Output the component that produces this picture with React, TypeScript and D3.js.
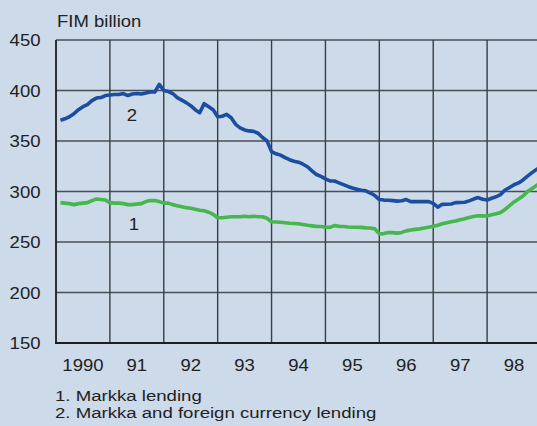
import React from "react";
import * as d3 from "d3";

const startYear = 1990;
const yearTicks = [1990, 1991, 1992, 1993, 1994, 1995, 1996, 1997, 1998];
const yearLabels = ["1990", "91", "92", "93", "94", "95", "96", "97", "98"];
const yTicks = [150, 200, 250, 300, 350, 400, 450];

// Series 2: Markka and foreign currency lending (monthly, Jan 1990 - Dec 1998)
const foreignAndMarkka = [
  370.5, 372, 374, 377, 381, 384, 386, 390, 392.5, 393, 395, 395.5,
  396, 396, 397, 395, 396.5, 397, 396.5, 397.5, 398.5, 398.5, 406, 400,
  399, 397, 393, 390.5, 388, 385, 381, 378, 387, 384, 381, 374,
  374.5, 376.4, 373, 366.5, 363, 361, 360, 359.5, 357.7, 353.5, 350, 339.5,
  337.3, 336, 333.5, 331.5, 330, 329, 327, 324.5, 320.5, 316.8, 315, 312.5,
  310.4, 310.4, 308.6, 306.8, 305, 303.5, 302.3, 301.3, 300.7, 298.5, 296, 292,
  291.5, 291.3, 291, 290.5, 290.8, 292, 290, 290, 290, 290, 290, 288.3,
  284.5, 287.3, 287.4, 287.6, 289, 289.1, 289.3, 290.7, 292.5, 294, 292.3, 291.6,
  293.3, 294.8, 297, 301.5, 304, 306.7, 308.5, 311.5, 315.2, 318.7, 321.8, 324.5,
];

// Series 1: Markka lending
const markka = [
  289, 288.5, 288, 287, 288, 288.5, 289, 291, 292.5, 292, 291.5, 289,
  288.5, 288.5, 288, 287, 287, 287.5, 288, 290, 291, 291, 290, 288.5,
  288.5, 287, 286, 285, 284, 283.5, 282.5, 281.5, 281, 279.5, 277.4, 274,
  274, 274.5, 275, 275, 275, 275.5, 275, 275.5, 275, 275, 273.5, 270,
  269.8, 269.5, 269, 268.5, 268.3, 268, 267.3, 266.5, 266, 265.5, 265.3, 264.8,
  264.5, 266.2, 265.5, 265.3, 264.8, 264.6, 264.6, 264.5, 264, 263.8, 263, 258,
  258.3, 259.3, 259.3, 258.8, 259.5, 261, 261.8, 262.5, 263, 263.8, 264.6, 265.5,
  266.6, 268, 269, 270, 270.7, 272, 273, 274.3, 275.3, 276, 275.9, 275.7,
  277, 278, 279.2, 282.2, 286, 289.7, 292.5, 295.5, 300, 303, 306, 309,
];

const legendLines = ["1. Markka lending", "2. Markka and foreign currency lending"];

const W = 537;
const H = 426;
const FONT = "'Liberation Sans', Arial, Helvetica, sans-serif";
const SX = 1.09;

function T({ px, py, anchor = "start", size = 17, sx = SX, children }: { px: number; py: number; anchor?: string; size?: number; sx?: number; children: React.ReactNode }) {
  return (
    <text
      transform={`translate(${px},${py}) scale(${sx},1)`}
      textAnchor={anchor as any}
      fontFamily={FONT}
      fontSize={size}
      fill="#222"
    >
      {children}
    </text>
  );
}

export default function App() {
  const xs = d3.scaleLinear().domain([1990, 1999]).range([56, 541]);
  const ys = d3.scaleLinear().domain([150, 450]).range([343, 40]);
  const t = (i: number) => startYear + (i + 1) / 12;

  const lineGen = d3
    .line<number>()
    .x((_, i) => xs(t(i)))
    .y((d) => ys(d));

  const x0 = xs(1990);

  return (
    <svg
      width={W}
      height={H}
      style={{ position: "absolute", left: 0, top: 0, display: "block" }}
    >
      <rect x={0} y={0} width={W} height={H} fill="#cddaea" />
      {yTicks.slice(1).map((v) => (
        <line key={"h" + v} x1={x0} x2={W} y1={ys(v)} y2={ys(v)} stroke="#4a4e55" strokeWidth={1.4} />
      ))}
      {yearTicks.slice(1).map((yr) => (
        <line key={"v" + yr} x1={xs(yr)} x2={xs(yr)} y1={ys(450)} y2={ys(150)} stroke="#3a3d42" strokeWidth={1.4} />
      ))}
      <line x1={x0} x2={x0} y1={ys(450)} y2={ys(150)} stroke="#1e1e1e" strokeWidth={1.8} />
      <line x1={x0 - 1} x2={W} y1={ys(150)} y2={ys(150)} stroke="#1e1e1e" strokeWidth={1.8} />

      <path d={lineGen(markka) || ""} fill="none" stroke="#45b74c" strokeWidth={3.6} strokeLinejoin="round" />
      <path d={lineGen(foreignAndMarkka) || ""} fill="none" stroke="#1c4e9f" strokeWidth={3.6} strokeLinejoin="round" />

      {yTicks.map((v) => (
        <T key={"yl" + v} px={40.5} py={ys(v) + 6} anchor="end">{String(v)}</T>
      ))}
      {yearTicks.map((yr, i) => (
        <T key={"xl" + yr} px={xs(yr + 0.5)} py={371} anchor="middle">{yearLabels[i]}</T>
      ))}
      <T px={57} py={27}>FIM billion</T>
      <T px={132} py={121} anchor="middle">2</T>
      <T px={134} py={230} anchor="middle">1</T>
      {legendLines.map((s, i) => (
        <T key={"lg" + i} px={55} py={401 + i * 17} size={15.5} sx={1.2}>{s}</T>
      ))}
    </svg>
  );
}
